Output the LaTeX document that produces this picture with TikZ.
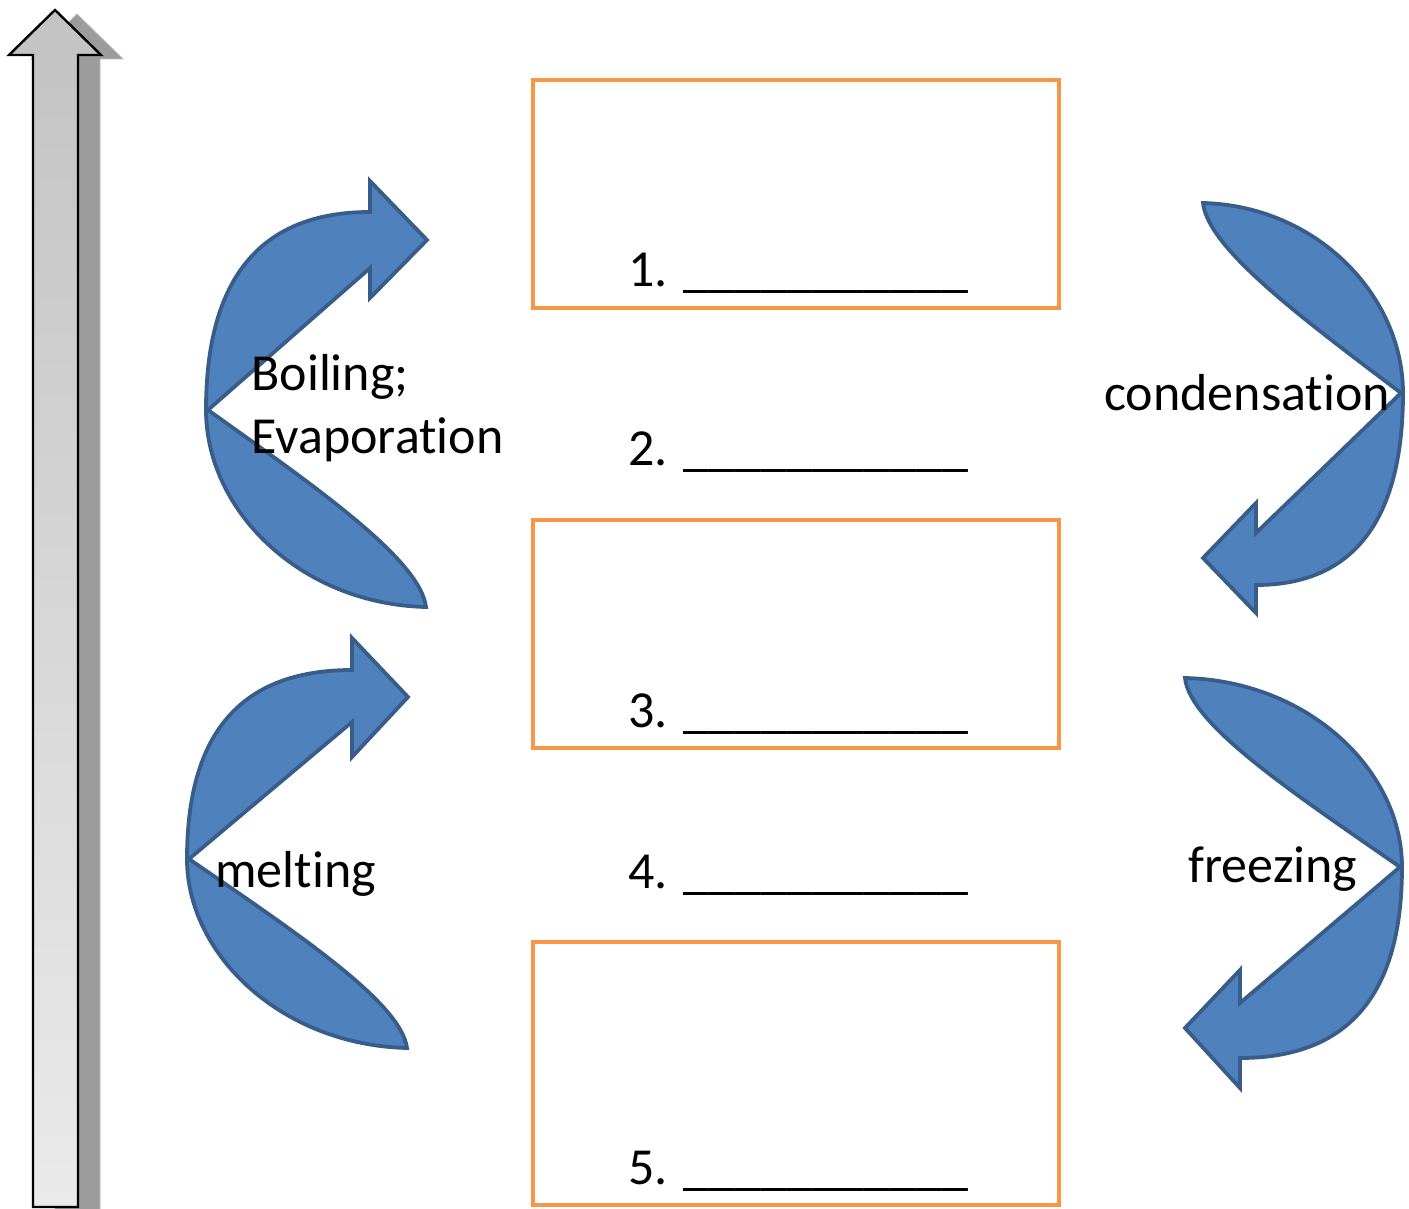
\documentclass[tikz,border=0pt]{standalone}
\usepackage{fontspec}
\setmainfont{Carlito}[Ligatures=NoCommon]
\usepackage{tikz}
\usetikzlibrary{positioning}
\definecolor{orangeline}{HTML}{F79646}
\definecolor{bluefill}{HTML}{4F81BD}
\definecolor{blueline}{HTML}{385D8A}
\definecolor{greytop}{HTML}{C3C3C3}
\definecolor{greybot}{HTML}{EAEAEA}
\definecolor{greyshadow}{HTML}{9C9C9C}
\tikzset{
  statebox/.style={
    rectangle, draw=orangeline, line width=2pt,
    minimum width=263pt, minimum height=#1, inner sep=0pt
  },
  statebox/.default=114pt,
  blanklabel/.style={anchor=base west, inner sep=0pt, font=\fontsize{26}{31.2}\selectfont},
  changelabel/.style={blanklabel, align=left},
  bendarrow/.style={fill=bluefill, draw=blueline, line width=1.9pt, line join=miter}
}

\begin{document}
\begin{tikzpicture}[x=0.5pt, y=-0.5pt]
\useasboundingbox (0,0) rectangle (1409,1209);

% energy arrow
\fill[greyshadow, draw=greyshadow!70] (55,1215) -- (55,59) -- (31,59) -- (77,14) -- (123,59) -- (100,59) -- (100,1215) -- cycle;
\shade[top color=greytop, bottom color=greybot, draw=black, line width=1.2pt]
  (33,1207) -- (33,55) -- (9,55) -- (55,10) -- (101,55) -- (78,55) -- (78,1207) -- cycle;

% states
\node[statebox] (gas) at (796,194) {};
\node[statebox] (liquid) at (796,634) {};
\node[statebox=131.5pt] (solid) at (796,1073.5) {};

\node[blanklabel] (blank1) at (628,287) {1. \_\_\_\_\_\_\_\_\_\_\_};
\node[blanklabel] (blank2) at (628,466) {2. \_\_\_\_\_\_\_\_\_\_\_};
\node[blanklabel] (blank3) at (628,727) {3. \_\_\_\_\_\_\_\_\_\_\_};
\node[blanklabel] (blank4) at (628,888) {4. \_\_\_\_\_\_\_\_\_\_\_};
\node[blanklabel] (blank5) at (628,1184) {5. \_\_\_\_\_\_\_\_\_\_\_};

% curved arrows
\draw[bendarrow] (426,607) .. controls (300,604) and (206,510) .. (206,410)
  .. controls (206,285) and (255,212) .. (370,212) -- (370,181) -- (427,240) -- (370,298) -- (370,268)
  -- (208,410) .. controls (320,490) and (420,560) .. (426,607) -- cycle;
\draw[bendarrow] (407,1048) .. controls (282,1045) and (187,955) .. (187,859)
  .. controls (187,740) and (235,670) .. (352,670) -- (352,638) -- (408,697) -- (352,757) -- (352,722)
  -- (189,859) .. controls (301,936) and (401,1003) .. (407,1048) -- cycle;
\draw[bendarrow] (1203,203) .. controls (1317,206) and (1403,296) .. (1403,393)
  .. controls (1403,514) and (1358,585) .. (1256,585) -- (1256,613) -- (1203,558) -- (1256,503) -- (1256,533)
  -- (1401,393) .. controls (1299,316) and (1208,248) .. (1203,203) -- cycle;
\draw[bendarrow] (1185,678) .. controls (1309,681) and (1402,771) .. (1402,867)
  .. controls (1402,988) and (1354,1058) .. (1240,1058) -- (1240,1088) -- (1185,1028) -- (1240,970) -- (1240,1003)
  -- (1400,867) .. controls (1289,790) and (1190,724) .. (1185,678) -- cycle;

\node[changelabel] (boiling) at (251,453) {Boiling;\\Evaporation};
\node[changelabel] (condense) at (1104,410) {condensation};
\node[changelabel] (melting) at (215,887) {melting};
\node[changelabel] (freezing) at (1188,882) {freezing};
\end{tikzpicture}
\end{document}
